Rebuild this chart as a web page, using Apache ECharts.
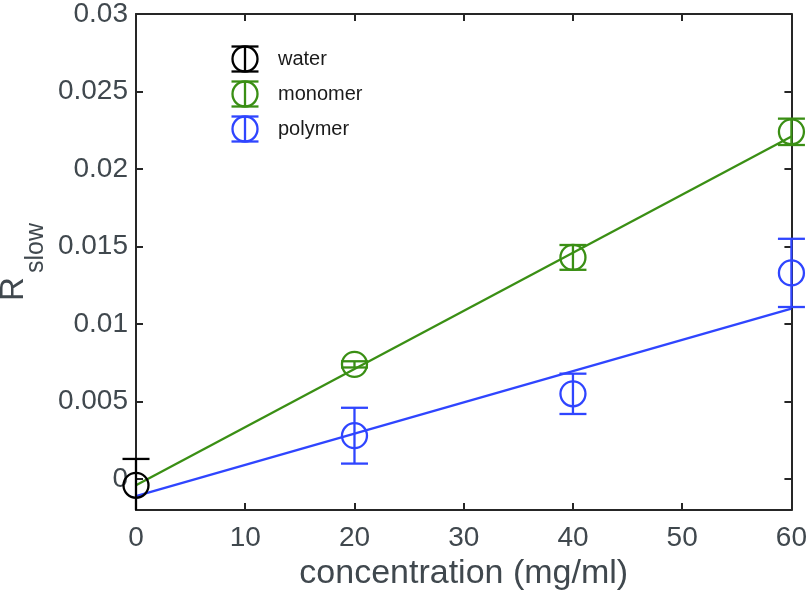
<!DOCTYPE html>
<html>
<head>
<meta charset="utf-8">
<script src="https://cdn.jsdelivr.net/npm/echarts@6/dist/echarts.min.js"></script>
<style>html,body{margin:0;padding:0;background:#fff}#c{width:810px;height:596px}</style>
</head>
<body>
<div id="c"></div>
<script>
// ---- data ----
const xTickValues = [0, 10, 20, 30, 40, 50, 60];
const yTickValues = [0, 0.005, 0.01, 0.015, 0.02, 0.025, 0.03];
const seriesNames = ['water', 'monomer', 'polymer'];
const waterX = [0];
const waterY = [-0.0004];
const waterErr = [0.0017];
const monomerX = [20, 40, 60];
const monomerY = [0.0074, 0.0143, 0.0224];
const monomerErr = [0.0002, 0.0008, 0.00085];
const polymerX = [20, 40, 60];
const polymerY = [0.0028, 0.0055, 0.0133];
const polymerErr = [0.0018, 0.0013, 0.0022];
const monomerFitX = [0, 60];
const monomerFitY = [-0.0004, 0.0221];
const polymerFitX = [0, 60];
const polymerFitY = [-0.0011, 0.0110];

// ---- style ----
const colors = { water: '#000000', monomer: '#3a8f14', polymer: '#2f45ff' };
const axisColor = '#262626';
const labelColor = '#40484e';
const FONT = '"Liberation Sans", Arial, Helvetica, sans-serif';
const Y_MIN = -0.002, Y_MAX = 0.03;
const LW = 2.3;

function pts(xs, ys) { return xs.map((x, i) => [x, ys[i]]); }
function errData(xs, ys, es) { return xs.map((x, i) => [x, ys[i] - es[i], ys[i] + es[i]]); }

function errSeries(name, xs, ys, es) {
  return {
    type: 'custom', name: name, clip: false, z: 4,
    data: errData(xs, ys, es),
    renderItem: function (params, api) {
      const x = api.value(0);
      const loV = api.value(1), hiV = api.value(2);
      const lo = api.coord([x, Math.max(loV, Y_MIN)]);
      const hi = api.coord([x, Math.min(hiV, Y_MAX)]);
      const hw = 13.5;
      const st = { stroke: colors[name], lineWidth: LW, fill: null };
      const ch = [{ type: 'line', shape: { x1: lo[0], y1: lo[1], x2: hi[0], y2: hi[1] }, style: st }];
      if (loV >= Y_MIN) ch.push({ type: 'line', shape: { x1: lo[0] - hw, y1: lo[1], x2: lo[0] + hw, y2: lo[1] }, style: st });
      if (hiV <= Y_MAX) ch.push({ type: 'line', shape: { x1: hi[0] - hw, y1: hi[1], x2: hi[0] + hw, y2: hi[1] }, style: st });
      return { type: 'group', children: ch };
    }
  };
}
function circSeries(name, xs, ys) {
  return {
    type: 'scatter', name: name, z: 4, symbol: 'circle', symbolSize: 25,
    data: pts(xs, ys),
    itemStyle: { color: 'rgba(0,0,0,0)', borderColor: colors[name], borderWidth: LW, opacity: 1 },
    emphasis: { disabled: true }, silent: true
  };
}
function fitSeries(name, xs, ys) {
  return {
    type: 'line', name: name + ' fit', z: 3, data: pts(xs, ys), showSymbol: false,
    lineStyle: { color: colors[name], width: LW }, silent: true, animation: false
  };
}

// legend graphic
function legendEntry(name, cy) {
  const cx = 245, r = 12.5, hw = 13.5;
  const st = { stroke: colors[name], lineWidth: LW, fill: null };
  return [
    { type: 'circle', shape: { cx: cx, cy: cy, r: r }, style: st },
    { type: 'line', shape: { x1: cx, y1: cy - r, x2: cx, y2: cy + r }, style: st },
    { type: 'line', shape: { x1: cx - hw, y1: cy - r, x2: cx + hw, y2: cy - r }, style: st },
    { type: 'line', shape: { x1: cx - hw, y1: cy + r, x2: cx + hw, y2: cy + r }, style: st },
    { type: 'text', x: 278, y: cy, style: { text: name, fill: '#1a1a1a', font: '20px ' + FONT, textVerticalAlign: 'middle' } }
  ];
}

const chart = echarts.init(document.getElementById('c'), null, { renderer: 'canvas' });
const grid = { left: 136, right: 16, top: 11, bottom: 81 };
const yFmt = v => String(+v.toFixed(4));
const axLine = { show: true, onZero: false, lineStyle: { color: axisColor, width: 2 } };
const tickStyle = { color: axisColor, width: 2 };
chart.setOption({
  animation: false,
  backgroundColor: '#ffffff',
  grid: grid,
  xAxis: [
    {
      type: 'value', min: 0, max: 60, interval: 10, position: 'bottom',
      name: 'concentration (mg/ml)', nameLocation: 'middle', nameGap: 42,
      nameTextStyle: { fontSize: 34, color: labelColor, fontFamily: FONT },
      axisLine: axLine,
      axisTick: { show: true, inside: true, length: 7, lineStyle: tickStyle },
      axisLabel: { fontSize: 28, color: labelColor, fontFamily: FONT, margin: 14,
        customValues: xTickValues },
      splitLine: { show: false }
    },
    {
      type: 'value', min: 0, max: 60, interval: 10, position: 'top',
      axisLine: axLine,
      axisTick: { show: true, inside: true, length: 7, lineStyle: tickStyle },
      axisLabel: { show: false }, splitLine: { show: false }
    }
  ],
  yAxis: [
    {
      type: 'value', min: Y_MIN, max: Y_MAX, position: 'left',
      axisLine: axLine,
      axisTick: { show: true, inside: true, length: 7, lineStyle: tickStyle, customValues: yTickValues },
      axisLabel: { fontSize: 28, color: labelColor, fontFamily: FONT, margin: 8,
        customValues: yTickValues, formatter: yFmt },
      splitLine: { show: false }
    },
    {
      type: 'value', min: Y_MIN, max: Y_MAX, position: 'right',
      axisLine: axLine,
      axisTick: { show: true, inside: true, length: 7, lineStyle: tickStyle, customValues: yTickValues },
      axisLabel: { show: false }, splitLine: { show: false }
    }
  ],
  graphic: [
    { type: 'text', x: 14, y: 289, rotation: Math.PI / 2,
      style: { text: 'R', fill: labelColor, font: '33px ' + FONT, textAlign: 'center', textVerticalAlign: 'middle' } },
    { type: 'text', x: 36, y: 248, rotation: Math.PI / 2,
      style: { text: 'slow', fill: labelColor, font: '25px ' + FONT, textAlign: 'center', textVerticalAlign: 'middle' } },
    ...legendEntry('water', 59),
    ...legendEntry('monomer', 94),
    ...legendEntry('polymer', 129)
  ],
  series: [
    fitSeries('monomer', monomerFitX, monomerFitY),
    fitSeries('polymer', polymerFitX, polymerFitY),
    circSeries('water', waterX, waterY),
    errSeries('water', waterX, waterY, waterErr),
    circSeries('monomer', monomerX, monomerY),
    errSeries('monomer', monomerX, monomerY, monomerErr),
    circSeries('polymer', polymerX, polymerY),
    errSeries('polymer', polymerX, polymerY, polymerErr)
  ]
});
</script>
</body>
</html>
